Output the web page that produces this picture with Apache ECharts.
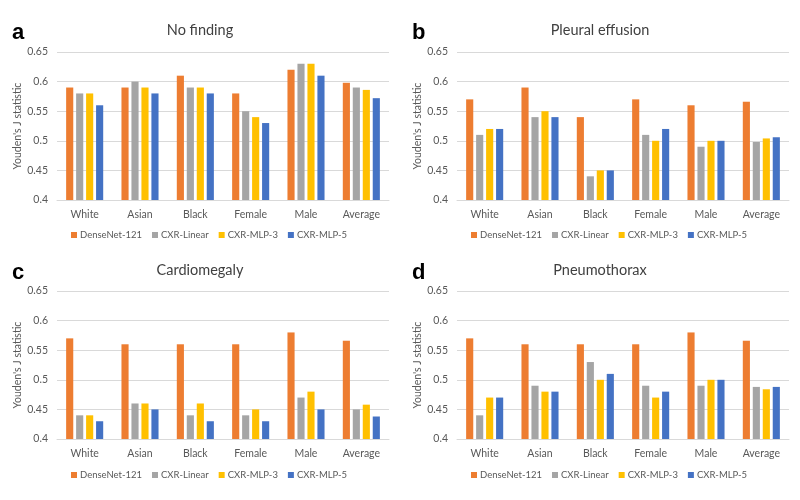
<!DOCTYPE html>
<html><head><meta charset="utf-8">
<script src="https://cdn.jsdelivr.net/npm/echarts@6/dist/echarts.min.js"></script>
<style>html,body{margin:0;padding:0;background:#fff}#c{width:800px;height:500px}</style>
</head><body><div id="c"></div>
<script>
const categories = ['White','Asian','Black','Female','Male','Average'];
const models = ['DenseNet-121','CXR-Linear','CXR-MLP-3','CXR-MLP-5'];
const colors = ['#ED7D31','#A5A5A5','#FFC000','#4472C4'];
const yTicks = [0.4,0.45,0.5,0.55,0.6,0.65];
const panelTitles = ['No finding','Pleural effusion','Cardiomegaly','Pneumothorax'];
const panelLetters = ['a','b','c','d'];

const noFinding_DenseNet = [0.59,0.59,0.61,0.58,0.62,0.598];
const noFinding_Linear   = [0.58,0.60,0.59,0.55,0.63,0.590];
const noFinding_MLP3     = [0.58,0.59,0.59,0.54,0.63,0.586];
const noFinding_MLP5     = [0.56,0.58,0.58,0.53,0.61,0.572];

const pleural_DenseNet = [0.57,0.59,0.54,0.57,0.56,0.566];
const pleural_Linear   = [0.51,0.54,0.44,0.51,0.49,0.498];
const pleural_MLP3     = [0.52,0.55,0.45,0.50,0.50,0.504];
const pleural_MLP5     = [0.52,0.54,0.45,0.52,0.50,0.506];

const cardio_DenseNet = [0.57,0.56,0.56,0.56,0.58,0.566];
const cardio_Linear   = [0.44,0.46,0.44,0.44,0.47,0.450];
const cardio_MLP3     = [0.44,0.46,0.46,0.45,0.48,0.458];
const cardio_MLP5     = [0.43,0.45,0.43,0.43,0.45,0.438];

const pneumo_DenseNet = [0.57,0.56,0.56,0.56,0.58,0.566];
const pneumo_Linear   = [0.44,0.49,0.53,0.49,0.49,0.488];
const pneumo_MLP3     = [0.47,0.48,0.50,0.47,0.50,0.484];
const pneumo_MLP5     = [0.47,0.48,0.51,0.48,0.50,0.488];

const panelData = [
  [noFinding_DenseNet,noFinding_Linear,noFinding_MLP3,noFinding_MLP5],
  [pleural_DenseNet,pleural_Linear,pleural_MLP3,pleural_MLP5],
  [cardio_DenseNet,cardio_Linear,cardio_MLP3,cardio_MLP5],
  [pneumo_DenseNet,pneumo_Linear,pneumo_MLP3,pneumo_MLP5]
];

const FONT = 'Lato';
const layout = [
  {ox:0,  gridTop:52,  gridBottomY:200, titleY:18,  labelY:235},
  {ox:400,gridTop:52,  gridBottomY:200, titleY:18,  labelY:235},
  {ox:0,  gridTop:291, gridBottomY:439, titleY:258, labelY:475},
  {ox:400,gridTop:291, gridBottomY:439, titleY:258, labelY:475}
];

const grids=[],xAxes=[],yAxes=[],series=[],titles=[],legends=[];
layout.forEach((L,i)=>{
  grids.push({left:L.ox+57,width:332,top:L.gridTop,height:L.gridBottomY-L.gridTop});
  xAxes.push({type:'category',gridIndex:i,data:categories,
    axisLine:{lineStyle:{color:'#D9D9D9'}},axisTick:{show:false},
    axisLabel:{color:'#595959',fontSize:10.5,fontFamily:FONT,margin:9,interval:0}});
  yAxes.push({type:'value',gridIndex:i,min:yTicks[0],max:yTicks[yTicks.length-1],interval:0.05,
    name:"Youden's J statistic",nameLocation:'middle',nameGap:28,
    nameTextStyle:{color:'#595959',fontSize:10.5,fontFamily:FONT},
    axisLine:{show:false},axisTick:{show:false},
    splitLine:{lineStyle:{color:'#D9D9D9'}},
    axisLabel:{color:'#595959',fontSize:10.5,fontFamily:FONT,margin:9,
      formatter:v=>String(+v.toFixed(2))}});
  models.forEach((m,k)=>{
    series.push({type:'bar',name:m,xAxisIndex:i,yAxisIndex:i,data:panelData[i][k],
      itemStyle:{color:colors[k]},barGap:'40%',barCategoryGap:'33%',animation:false});
  });
  titles.push({text:panelTitles[i],left:L.ox+195,top:L.titleY,textAlign:'center',
    textStyle:{color:'#404040',fontSize:14.5,fontWeight:'normal',fontFamily:FONT}});
  titles.push({text:panelLetters[i],left:L.ox+7,top:L.titleY-1,
    textStyle:{color:'#000',fontSize:22,fontWeight:'bold',fontFamily:'Liberation Sans'}});
  legends.push({data:models,left:L.ox+71,top:L.labelY-5,width:380,padding:0,
    orient:'horizontal',itemWidth:6,itemHeight:6,itemGap:10,icon:'rect',
    textStyle:{color:'#595959',fontSize:9.5,fontFamily:FONT,padding:[0,0,0,-2]},selectedMode:false});
});

const chart = echarts.init(document.getElementById('c'));
chart.setOption({animation:false,color:colors,title:titles,legend:legends,grid:grids,
  xAxis:xAxes,yAxis:yAxes,series:series});
</script></body></html>
